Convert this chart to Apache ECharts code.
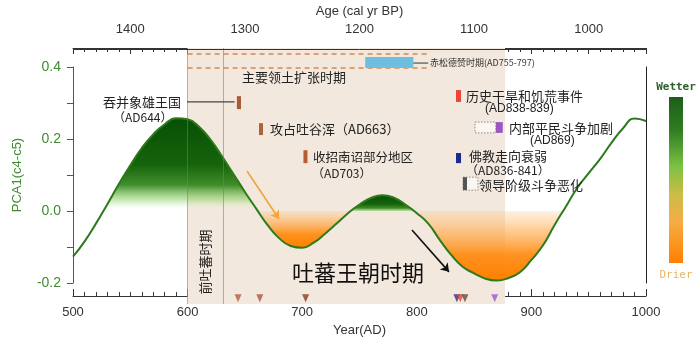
<!DOCTYPE html>
<html><head><meta charset="utf-8">
<script src="https://cdn.jsdelivr.net/npm/echarts@6/dist/echarts.min.js"></script>
<style>html,body{margin:0;padding:0;background:#fff}#c{width:700px;height:342px}</style>
</head><body><div id="c"></div>
<script>
// ---------------- data ----------------
const years = [500,510,520,530,540,550,560,570,580,590,600,610,620,630,640,650,660,670,680,690,700,
  710,720,730,740,750,760,770,780,790,800,810,820,830,840,850,860,870,880,890,900,910,920,930,940,950,960,970,980,990,1000];
const pca = [-0.127,-0.085,-0.035,0.019,0.075,0.127,0.175,0.213,0.241,0.258,0.255,0.234,0.198,0.152,0.103,0.053,0.006,
  -0.040,-0.076,-0.097,-0.102,-0.088,-0.063,-0.035,-0.006,0.018,0.036,0.044,0.037,0.018,-0.006,-0.035,-0.080,-0.122,
  -0.155,-0.173,-0.188,-0.193,-0.186,-0.170,-0.136,-0.096,-0.040,0.012,0.064,0.105,0.145,0.190,0.230,0.257,0.250];
const wetSpans = [[530,660],[740,800]];
const drySpans = [[660,740],[800,930]];
const tuboPeriod = [600, 877];
const preTuboEnd = 631;
const expansionPeriod = [600, 810];
const trisongReign = [755, 797];
const xTicksAD = [500, 600, 700, 800, 900, 1000];
const yTicks = [-0.2, 0.0, 0.2, 0.4];
// events: [startYear, endYear]
const eventNames = ['吞并象雄王国','攻占吐谷浑','收招南诏部分地区','历史干旱和饥荒事件','内部平民斗争加剧','佛教走向衰弱','领导阶级斗争恶化'];
const eventSpans = [[643,646.6],[662.3,665.8],[701.1,704.6],[834.2,838.6],[869,875],[834.2,838.6],[840.3,843.8]];
const eventColors = ['#a85b35','#b0603a','#b55d34','#e8473b','#9a58bd','#1d2a8c','#555555'];
// layout (value-space rows for the event bars)
const eventRows = [[0.319,0.283],[0.244,0.211],[0.169,0.133],[0.336,0.303],[0.247,0.217],[0.161,0.133],[0.094,0.058]];
const dottedBoxes = [[850.8,869,0.247,0.217],[840.3,853.4,0.094,0.058]];
const triYears = [644, 663, 703, 835, 838, 842, 868];
const triColors = ['#b0603a','#a8583a','#8a3a22','#3a2a80','#e0483a','#6a4a3a','#9b59d0'];

// ---------------- helpers ----------------
const FCN = "'Noto Sans CJK SC','Noto Sans',sans-serif";
const FEN = "'Liberation Sans',Arial,sans-serif";
const Y_MIN = -0.2583, Y_MAX = 0.4528;
const pts = years.map((y,i)=>[y,pca[i]]);
const sub = (a,b)=>pts.filter(p=>p[0]>=a && p[0]<=b);
const G = echarts.graphic.LinearGradient;
const AX = '#333';

const series = [];
series.push({
  type:'line', data:[], xAxisIndex:0, yAxisIndex:0, silent:true,
  markArea:{silent:true, itemStyle:{color:'#f3e8dd'}, data:[[{xAxis:tuboPeriod[0]},{xAxis:tuboPeriod[1]}]]},
  markLine:{silent:true, symbol:['none','none'], label:{show:false},
    lineStyle:{color:'rgba(120,120,120,0.55)', width:1, type:'solid'},
    data:[{xAxis:tuboPeriod[0]},{xAxis:preTuboEnd}]}
});
wetSpans.forEach(s=>series.push({
  type:'line', data:sub(s[0],s[1]), smooth:true, symbol:'none', z:2, silent:true,
  lineStyle:{width:0},
  areaStyle:{origin:0, opacity:1, color:new G(0,0,0,1,[
    {offset:0,color:'#085004'},{offset:0.5,color:'#15640c'},{offset:0.72,color:'rgba(45,130,22,0.9)'},
    {offset:0.88,color:'rgba(140,210,100,0.5)'},{offset:1,color:'rgba(255,255,255,0)'}])}
}));
drySpans.forEach(s=>series.push({
  type:'line', data:sub(s[0],s[1]), smooth:true, symbol:'none', z:2, silent:true,
  lineStyle:{width:0},
  areaStyle:{origin:0, opacity:1, color:new G(0,0,0,1,[
    {offset:0,color:'rgba(255,200,130,0.15)'},{offset:0.3,color:'rgba(255,175,85,0.6)'},
    {offset:0.65,color:'rgba(255,140,20,0.95)'},{offset:1,color:'#ff8000'}])}
}));
series.push({type:'line', data:pts, smooth:true, symbol:'none', z:4, silent:true,
  lineStyle:{color:'#2b7a1c', width:2}});
[0.436,0.397].forEach(v=>series.push({type:'line', silent:true, symbol:'none', z:3,
  data:[[expansionPeriod[0],v],[expansionPeriod[1],v]],
  lineStyle:{color:'#d9864f', width:1.5, type:[5,4]}}));
const rects = [[trisongReign[0],trisongReign[1],0.428,0.397,'#6cbfde',null]];
dottedBoxes.forEach(b=>rects.push([b[0],b[1],b[2],b[3],'rgba(255,255,255,0.6)','#8a8a8a']));
eventSpans.forEach((s,i)=>rects.push([s[0],s[1],eventRows[i][0],eventRows[i][1],eventColors[i],null]));
series.push({type:'custom', z:5, silent:true, clip:false,
  data:rects.map(r=>[r[0],r[2],r[1],r[3]]),
  renderItem:(params,api)=>{
    const r = rects[params.dataIndex];
    const p0 = api.coord([api.value(0),api.value(1)]);
    const p1 = api.coord([api.value(2),api.value(3)]);
    return {type:'rect', shape:{x:p0[0],y:p0[1],width:p1[0]-p0[0],height:p1[1]-p0[1]},
      style: r[5] ? {fill:r[4], stroke:r[5], lineWidth:1, lineDash:[1.5,1.5]} : {fill:r[4]}};
  }});
series.push({type:'scatter', z:5, silent:true, symbol:'triangle', symbolRotate:180, symbolSize:[7,8],
  data:triYears.map((y,i)=>({value:[y,-0.242], itemStyle:{color:triColors[i]}}))});
series.push({type:'line', silent:true, symbol:'none', z:5, data:[[599.5,0.303],[641,0.303]],
  lineStyle:{color:'#444', width:1.2}});
series.push({type:'line', silent:true, symbol:'none', z:5, data:[[797,0.411],[810,0.411]],
  lineStyle:{color:'#333', width:1}});
series.push({type:'line', data:[], silent:true, z:5,
  markLine:{silent:true, symbol:['none','arrow'], symbolSize:8, label:{show:false},
    data:[
      [{coord:[651.8,0.111], lineStyle:{color:'#f0a63a', width:1.6, type:'solid'}},{coord:[679.8,-0.022]}],
      [{coord:[795.8,-0.053], lineStyle:{color:'#111', width:1.6, type:'solid'}},{coord:[828.1,-0.169]}]
    ]}});
// frame lines of the two x axes (top and bottom edges)
series.push({type:'line', data:[], silent:true, z:6, clip:false,
  markLine:{silent:true, symbol:['none','none'], label:{show:false}, z:6,
    lineStyle:{color:AX, width:1, type:'solid'},
    data:[{yAxis:Y_MIN+0.0022},{yAxis:Y_MAX}]}});

function txt(t,x,y,size,opt){
  opt = opt||{};
  return {type:'text', x:x, y:y, rotation:opt.rot||0, z:10, silent:true,
    style:{text:t, fill:opt.color||'#222', font:(opt.bold?'bold ':'')+size+'px '+(opt.fam||FCN),
      textAlign:opt.align||'left', textVerticalAlign:'middle', align:opt.align||'left', verticalAlign:'middle'}};
}
const graphics = [
  txt('主要领土扩张时期',242,77,13),
  txt('吞并象雄王国',103,102,13),
  txt('（AD644）',113,117,12),
  txt('攻占吐谷浑（AD663）',270,129,13),
  txt('收招南诏部分地区',313,157,12.5),
  txt('（AD703）',312,173,12),
  txt('历史干旱和饥荒事件',466,96,13),
  txt('(AD838-839)',485,109,12,{fam:FEN}),
  txt('内部平民斗争加剧',509,128,13),
  txt('(AD869)',530,141,12,{fam:FEN}),
  txt('佛教走向衰弱',469,156,13),
  txt('（AD836-841）',466,170,12),
  txt('领导阶级斗争恶化',479,185,13),
  txt('赤松德赞时期(AD755-797)',430,63,9,{color:'#333'}),
  txt('吐蕃王朝时期',292,273,22,{color:'#111'}),
  txt('前吐蕃时期',205,262,13,{align:'center',rot:Math.PI/2}),
  txt('Wetter',676,87,11,{align:'center',bold:true,color:'#2e5e2e',fam:"'DejaVu Sans Mono',monospace"}),
  txt('Drier',676,275,11,{align:'center',color:'#e3b769',fam:"'DejaVu Sans Mono',monospace"}),
  {type:'rect', shape:{x:669,y:97,width:14,height:166}, silent:true, z:10,
    style:{fill:new G(0,0,0,1,[{offset:0,color:'#1d5e1a'},{offset:0.2,color:'#2f7d22'},{offset:0.42,color:'#7cc242'},
      {offset:0.58,color:'#c9bd45'},{offset:0.75,color:'#f5ad45'},{offset:1,color:'#ff8000'}])}}
];

const chart = echarts.init(document.getElementById('c'), null, {renderer:'canvas'});
chart.setOption({
  animation:false,
  backgroundColor:'#fff',
  grid:[{left:73,right:54,top:48,bottom:38},{left:73,right:54,top:67,bottom:59},{left:73,right:54,top:48,bottom:38}],
  xAxis:[
    {type:'value', gridIndex:0, min:500, max:1000, show:false},
    {type:'value', gridIndex:1, min:500, max:1000, show:false},
    {type:'value', gridIndex:2, position:'bottom', min:xTicksAD[0], max:xTicksAD[xTicksAD.length-1], interval:100,
      axisLine:{show:true,onZero:false,lineStyle:{color:AX,width:1}}, axisTick:{show:true,inside:true,length:7,lineStyle:{color:AX}},
      minorTick:{show:true,splitNumber:10,length:4,lineStyle:{color:AX}},
      splitLine:{show:false}, minorSplitLine:{show:false},
      axisLabel:{show:true,fontSize:13,color:'#333',margin:10,fontFamily:FEN,formatter:v=>String(v)},
      name:'Year(AD)', nameLocation:'middle', nameGap:23, nameTextStyle:{fontSize:13,color:'#333',fontFamily:FEN}},
    {type:'value', gridIndex:2, position:'top', min:950, max:1450, interval:50, inverse:true,
      axisLine:{show:true,onZero:false,lineStyle:{color:AX,width:1}}, axisTick:{show:true,inside:true,length:6,lineStyle:{color:AX}},
      minorTick:{show:true,splitNumber:5,length:4,lineStyle:{color:AX}},
      splitLine:{show:false}, minorSplitLine:{show:false},
      axisLabel:{show:true,fontSize:13,color:'#333',margin:12,fontFamily:FEN,formatter:v=>(v%100===0?String(v):'')},
      name:'Age (cal yr BP)', nameLocation:'middle', nameGap:29, nameTextStyle:{fontSize:13,color:'#333',fontFamily:FEN}}
  ],
  yAxis:[
    {type:'value', gridIndex:0, min:Y_MIN, max:Y_MAX, show:false},
    {type:'value', gridIndex:1, min:yTicks[0], max:yTicks[yTicks.length-1], interval:0.2, position:'left',
      axisLine:{show:true,onZero:false,lineStyle:{color:'#555'}}, axisTick:{show:true,inside:false,length:6,lineStyle:{color:'#555',width:1}},
      minorTick:{show:true,splitNumber:2,length:6,lineStyle:{color:'#555',width:1}},
      splitLine:{show:false}, minorSplitLine:{show:false},
      axisLabel:{fontSize:14,color:'#3f8c30',margin:12,fontFamily:FEN,formatter:v=>v.toFixed(1)},
      name:'PCA1(c4-c5)', nameLocation:'middle', nameGap:49, nameTextStyle:{fontSize:13,color:'#3f8c30',fontFamily:FEN}},
    {type:'value', gridIndex:1, min:-0.2, max:0.4, position:'right',
      axisLine:{show:true,onZero:false,lineStyle:{color:'#222'}}, axisTick:{show:false}, axisLabel:{show:false}, splitLine:{show:false}},
    {type:'value', gridIndex:2, min:1, max:2, show:false}
  ],
  series:series,
  graphic:graphics
});
</script></body></html>
